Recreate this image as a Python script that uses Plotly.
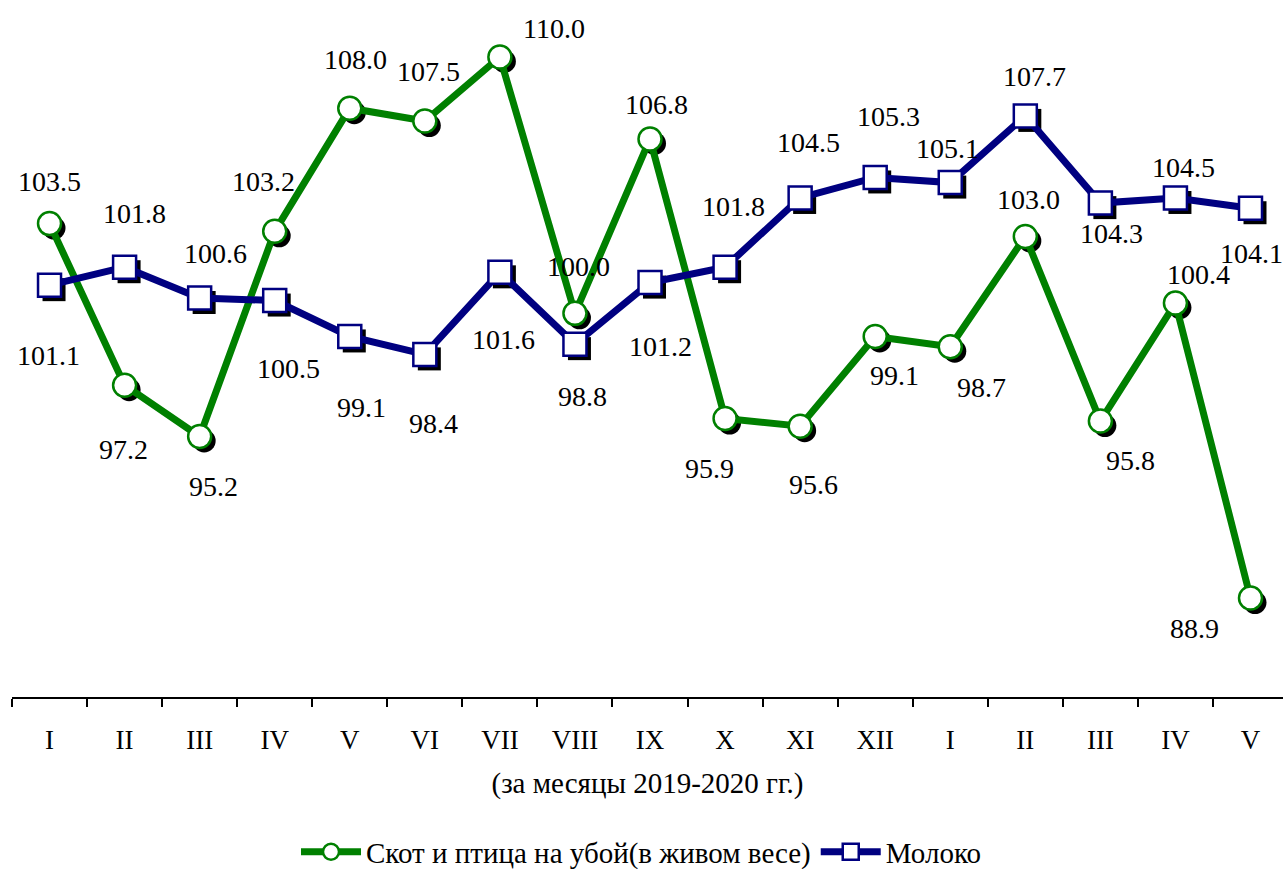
"""Индексы производства: скот и птица на убой, молоко (2019-2020)."""

import plotly.graph_objects as go

# ---------------------------------------------------------------------------
# Data
# ---------------------------------------------------------------------------

MONTHS = ["I", "II", "III", "IV", "V", "VI", "VII", "VIII", "IX", "X", "XI", "XII",
          "I", "II", "III", "IV", "V"]

CATTLE = [103.5, 97.2, 95.2, 103.2, 108.0, 107.5, 110.0, 100.0, 106.8, 95.9, 95.6,
          99.1, 98.7, 103.0, 95.8, 100.4, 88.9]
MILK = [101.1, 101.8, 100.6, 100.5, 99.1, 98.4, 101.6, 98.8, 101.2, 101.8, 104.5,
        105.3, 105.1, 107.7, 104.3, 104.5, 104.1]

NAME_CATTLE = "Скот и птица на убой(в живом весе)"
NAME_MILK = "Молоко"
X_TITLE = "(за месяцы 2019-2020 гг.)"

# label offsets in pixels (dx, dy; dy positive = down)
CATTLE_LABEL_SHIFT = [(0, -42), (-1, 64), (14, 50), (-11, -50), (6, -49), (4, -50),
                      (54, -28), (4, -47), (6, -34), (-16, 50), (13, 58), (19, 39),
                      (31, 41), (3, -37), (30, 39), (23, -29), (-56, 30)]
MILK_LABEL_SHIFT = [(-1, 70), (10, -54), (16, -44), (14, 68), (12, 71), (9, 69),
                    (4, 67), (8, 52), (10, 64), (8, -61), (8, -55), (13, -61),
                    (-3, -34), (9, -39), (11, 30), (8, -30), (1, 45)]

GREEN = "#008000"
NAVY = "#000080"
FONT = "Times New Roman, Liberation Serif, serif"

# ---------------------------------------------------------------------------
# Geometry
# ---------------------------------------------------------------------------

W, H = 1283, 869
M_L, M_B = 12, 172
X_RANGE = [-0.5, 16.433]
Y_RANGE = [85.04, 112.22]
px_x = (W - M_L) / (X_RANGE[1] - X_RANGE[0])
px_y = (H - M_B) / (Y_RANGE[1] - Y_RANGE[0])
SH_X, SH_Y = 4.5 / px_x, 4.5 / px_y

xs = list(range(len(MONTHS)))

fig = go.Figure()


def add_series(values, name, color, symbol):
    # marker shadow
    fig.add_trace(go.Scatter(
        x=[x + SH_X for x in xs],
        y=[v - SH_Y for v in values],
        mode="markers",
        marker=dict(symbol=symbol, size=23, color="black", line=dict(width=0)),
        showlegend=False,
        hoverinfo="skip",
    ))
    fig.add_trace(go.Scatter(
        x=xs,
        y=values,
        name=name,
        mode="lines+markers",
        line=dict(color=color, width=7),
        marker=dict(symbol=symbol, size=23, color="white", line=dict(color=color, width=2.5)),
    ))


add_series(CATTLE, NAME_CATTLE, GREEN, "circle")
add_series(MILK, NAME_MILK, NAVY, "square")

for values, shifts in ((CATTLE, CATTLE_LABEL_SHIFT), (MILK, MILK_LABEL_SHIFT)):
    for x, v, (dx, dy) in zip(xs, values, shifts):
        fig.add_annotation(
            x=x, y=v, text=f"{v:.1f}", showarrow=False,
            xshift=dx, yshift=-dy,
            font=dict(family=FONT, size=28, color="black"),
        )

fig.update_layout(
    width=W,
    height=H,
    margin=dict(l=M_L, r=0, t=0, b=M_B),
    plot_bgcolor="white",
    paper_bgcolor="white",
    font=dict(family=FONT, size=27, color="black"),
    xaxis=dict(
        range=X_RANGE,
        tickmode="array",
        tickvals=xs,
        ticktext=MONTHS,
        ticks="",
        ticklabelstandoff=18,
        showgrid=False,
        zeroline=False,
        showline=True,
        linecolor="black",
        linewidth=2,
        minor=dict(
            tickmode="array",
            tickvals=[x - 0.5 for x in xs] + [len(xs) - 0.5],
            ticks="outside",
            ticklen=8,
            tickwidth=2,
            tickcolor="black",
            showgrid=False,
        ),
        title=dict(text=X_TITLE, standoff=18, font=dict(family=FONT, size=29)),
        tickfont=dict(family=FONT, size=27),
        automargin=False,
    ),
    yaxis=dict(range=Y_RANGE, visible=False, showgrid=False),
    legend=dict(
        orientation="h",
        x=0.5,
        xanchor="center",
        xref="container",
        y=0.0196,
        yanchor="middle",
        yref="container",
        font=dict(family=FONT, size=29),
        itemwidth=60,
    ),
)

fig.write_html(
    "out.html",
    config={"displayModeBar": False},
    post_script="document.body.style.margin = '0';",
)
